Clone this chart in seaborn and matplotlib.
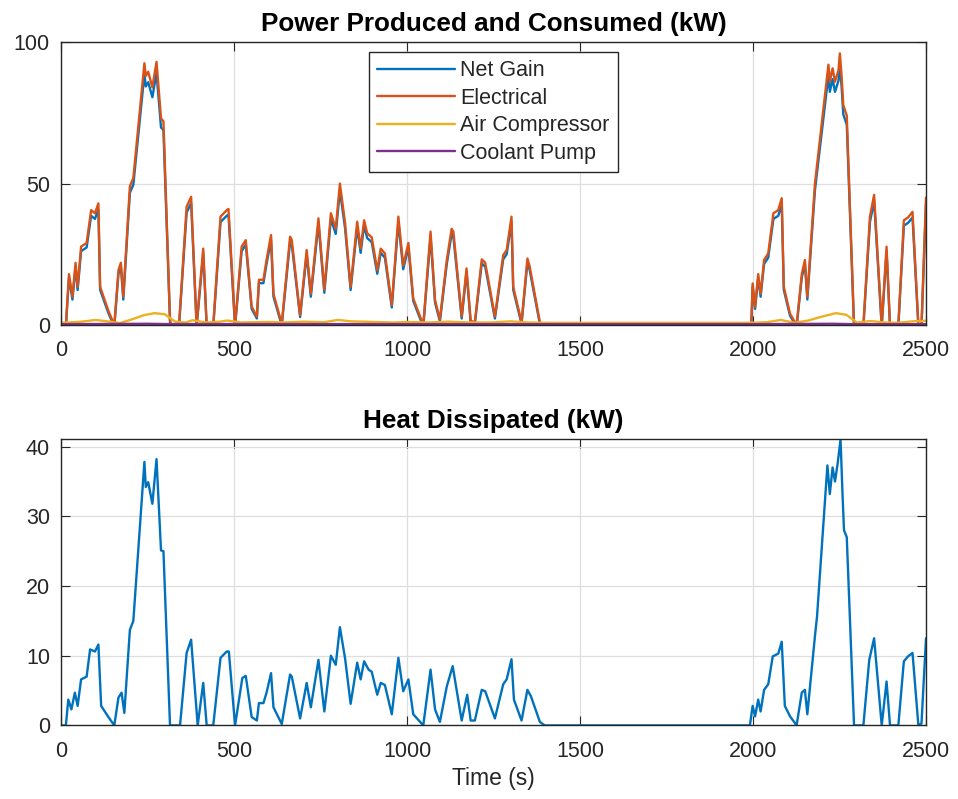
import numpy as np
import pandas as pd
import matplotlib
matplotlib.use("Agg")
import matplotlib.pyplot as plt
import seaborn as sns

sns.set_style("white")
plt.rcParams['font.family'] = ['Liberation Sans', 'DejaVu Sans']

# ---------------- data ----------------
t_power = [0, 14, 23, 33, 42, 48, 58, 74, 87, 98,
           108, 113, 137, 154, 166, 173, 180, 199, 209, 241,
           245, 252, 264, 276, 289, 296, 315, 318, 341, 363,
           376, 392, 411, 421, 440, 461, 479, 484, 503, 522,
           534, 551, 566, 572, 585, 594, 607, 614, 638, 662,
           667, 691, 710, 722, 744, 761, 780, 794, 806, 821,
           837, 856, 866, 876, 885, 898, 914, 924, 936, 956,
           975, 989, 1004, 1018, 1047, 1068, 1081, 1095, 1115, 1129,
           1134, 1158, 1172, 1184, 1196, 1216, 1226, 1254, 1278, 1288,
           1302, 1307, 1331, 1348, 1354, 1384, 1394, 1995, 1999, 2006,
           2015, 2022, 2032, 2044, 2059, 2073, 2083, 2089, 2107, 2126,
           2141, 2150, 2157, 2179, 2218, 2222, 2230, 2237, 2247, 2251,
           2256, 2261, 2271, 2292, 2319, 2338, 2350, 2372, 2386, 2396,
           2420, 2436, 2448, 2461, 2478, 2487, 2500]

electrical = [0, 0, 18, 10, 22, 13.5, 27.7, 29, 40.6, 39.5,
              43, 13.5, 5, 0, 19.4, 22, 10, 49, 52, 92.5,
              88, 89.5, 84, 93, 73, 72, 1.8, 0, 0, 41.8,
              45.3, 0, 27, 0, 0, 38.3, 40.6, 41, 0, 27.7,
              30, 6.5, 3, 16, 16, 23, 31.8, 11, 0.5, 31.2,
              30, 3.5, 26.5, 11, 37.7, 12.4, 39.5, 34, 50, 36,
              13.5, 36.5, 27, 37, 32.4, 31, 19.4, 27, 25.3, 7,
              38.3, 21, 29, 9.4, 0, 33, 8.8, 2, 23, 34,
              33, 3, 20, 1.5, 1, 23.2, 22, 3, 24.7, 26.5,
              38.3, 13.5, 1, 23.5, 21, 1, 0, 0, 14.7, 6.5,
              18, 11, 23, 25.3, 39.5, 40.6, 44.8, 13.5, 4, 0,
              18, 23, 10, 50, 92, 86, 90.7, 86, 90, 96,
              88, 77.7, 74, 0, 0, 38.3, 46, 0, 27.7, 0,
              0, 37, 38, 40, 0, 0, 45]

net_gain = [-0.6, -0.6, 16.8, 9.0, 20.6, 12.4, 26.1, 27.4, 38.6, 37.5,
            40.9, 12.4, 4.2, -0.6, 18.1, 20.6, 9.0, 46.7, 49.6, 88.7,
            84.3, 85.8, 80.5, 89.1, 69.8, 68.9, 1.1, -0.6, -0.6, 39.7,
            43.1, -0.6, 25.5, -0.6, -0.6, 36.4, 38.6, 39.0, -0.6, 26.1,
            28.4, 5.7, 2.3, 14.8, 14.8, 21.6, 30.1, 10.0, -0.1, 29.5,
            28.4, 2.8, 25.0, 10.0, 35.8, 11.4, 37.5, 32.2, 47.6, 34.1,
            12.4, 34.6, 25.5, 35.1, 30.7, 29.3, 18.1, 25.5, 23.8, 6.2,
            36.4, 19.7, 27.4, 8.5, -0.6, 31.2, 7.9, 1.3, 21.6, 32.2,
            31.2, 2.3, 18.7, 0.8, 0.4, 21.8, 20.6, 2.3, 23.2, 25.0,
            36.4, 12.4, 0.4, 22.1, 19.7, 0.4, -0.6, -0.6, 13.6, 5.7,
            16.8, 10.0, 21.6, 23.8, 37.5, 38.6, 42.6, 12.4, 3.3, -0.6,
            16.8, 21.6, 9.0, 47.6, 88.2, 82.4, 86.9, 82.4, 86.3, 92.0,
            84.3, 74.4, 70.8, -0.6, -0.6, 36.4, 43.8, -0.6, 26.1, -0.6,
            -0.6, 35.1, 36.1, 38.0, -0.6, -0.6, 42.8]

t_comp = [0, 20, 60, 100, 140, 170, 200, 240, 270, 300,
          330, 360, 380, 420, 460, 480, 520, 560, 600, 640,
          700, 760, 800, 840, 900, 960, 1000, 1060, 1120, 1180,
          1240, 1300, 1350, 1400, 1995, 2040, 2080, 2120, 2160, 2200,
          2240, 2270, 2300, 2340, 2380, 2420, 2460, 2500]
air_compressor = [0.8, 0.9, 1.2, 1.8, 1.2, 0.7, 1.8, 3.5, 4.2, 3.8,
                  1.2, 0.9, 1.7, 0.9, 1.2, 1.6, 0.9, 1.0, 1.1, 0.9,
                  1.2, 1.0, 1.8, 1.3, 1.1, 0.9, 1.1, 0.9, 1.2, 0.9,
                  0.9, 1.3, 0.9, 0.8, 0.8, 1.0, 1.8, 0.8, 1.6, 3.0,
                  4.2, 3.6, 0.9, 1.4, 0.9, 0.8, 1.3, 1.5]

t_pump = [0, 250, 300, 1400, 1995, 2230, 2290, 2500]
coolant_pump = [0.3, 0.45, 0.35, 0.3, 0.3, 0.45, 0.3, 0.3]

t_heat = [0, 14, 21, 30, 40, 48, 58, 74, 84, 98,
          108, 116, 137, 154, 166, 175, 183, 199, 209, 241,
          245, 252, 264, 276, 289, 296, 315, 344, 363, 376,
          395, 411, 421, 440, 461, 479, 485, 503, 524, 534,
          551, 566, 572, 585, 594, 607, 614, 638, 662, 667,
          691, 710, 722, 744, 761, 780, 794, 806, 821, 837,
          856, 866, 876, 889, 898, 914, 924, 936, 956, 975,
          989, 1004, 1018, 1047, 1068, 1081, 1095, 1115, 1132, 1158,
          1174, 1184, 1196, 1216, 1226, 1254, 1278, 1288, 1302, 1309,
          1331, 1348, 1358, 1384, 1398, 1991, 1999, 2006, 2015, 2022,
          2032, 2044, 2057, 2073, 2083, 2092, 2107, 2126, 2141, 2150,
          2157, 2179, 2185, 2215, 2222, 2230, 2237, 2245, 2253, 2259,
          2263, 2271, 2292, 2319, 2336, 2350, 2372, 2386, 2396, 2420,
          2436, 2448, 2461, 2478, 2487, 2500]
heat = [0, 0, 3.7, 2.3, 4.7, 2.8, 6.6, 7.0, 10.9, 10.6,
        11.6, 2.8, 1.2, 0, 4.0, 4.7, 1.8, 13.7, 15.0, 37.8,
        34.2, 34.9, 31.8, 38.2, 25.1, 25.0, 0, 0, 10.4, 12.3,
        0, 6.1, 0, 0, 9.7, 10.6, 10.6, 0, 6.8, 7.1,
        1.2, 0.7, 3.2, 3.2, 4.7, 7.5, 2.6, 0.2, 7.3, 7.0,
        1.0, 6.1, 2.6, 9.4, 2.0, 10.0, 8.7, 14.1, 9.6, 3.1,
        9.0, 6.6, 9.2, 8.0, 7.7, 4.4, 6.1, 5.8, 1.6, 9.7,
        4.9, 6.6, 1.6, 0, 8.0, 2.3, 0.5, 5.6, 8.5, 0.7,
        4.4, 0.7, 0.7, 5.1, 4.9, 1.0, 5.9, 6.6, 9.5, 3.7,
        0.7, 5.1, 4.2, 0.5, 0, 0, 2.8, 1.3, 3.7, 2.0,
        5.1, 5.9, 9.9, 10.3, 12.0, 2.8, 1.3, 0, 4.7, 5.1,
        1.6, 12.8, 15.6, 37.3, 33.2, 37.0, 35.0, 37.7, 41.05, 32.8,
        28.0, 27.0, 0, 0, 9.4, 12.5, 0, 6.3, 0, 0,
        9.2, 9.9, 10.4, 0, 0.3, 12.5]

x_ticks = [0, 500, 1000, 1500, 2000, 2500]
y_ticks_power = [0, 50, 100]
y_ticks_heat = [0, 10, 20, 30, 40]

# ---------------- styling ----------------
C_BLUE = '#0072BD'
C_ORANGE = '#D95319'
C_YELLOW = '#EDB120'
C_PURPLE = '#7E2F8E'
AX_COL = '#262626'
LW = 1.7


def style(ax):
    ax.set_xlim(0, 2500)
    ax.set_xticks(x_ticks)
    ax.grid(True, color='#dedede', linewidth=0.9)
    ax.set_axisbelow(True)
    for s in ax.spines.values():
        s.set_visible(True)
        s.set_color(AX_COL)
        s.set_linewidth(1.0)
    ax.tick_params(direction='in', length=6.2, width=0.8, color=AX_COL,
                   labelcolor=AX_COL, labelsize=15.5,
                   bottom=True, left=True, top=True, right=True)
    ax.tick_params(axis='x', pad=11)
    ax.tick_params(axis='y', pad=8)
    ax.set_xlabel('')
    ax.set_ylabel('')


fig = plt.figure(figsize=(9.58, 7.99), dpi=100)
ax1 = fig.add_axes([0.0637, 0.5932, 0.9029, 0.3542])
ax2 = fig.add_axes([0.0637, 0.0921, 0.9029, 0.3581])

sns.lineplot(x=t_power, y=net_gain, ax=ax1, color=C_BLUE, linewidth=LW, label='Net Gain')
sns.lineplot(x=t_power, y=electrical, ax=ax1, color=C_ORANGE, linewidth=LW, label='Electrical')
sns.lineplot(x=t_comp, y=air_compressor, ax=ax1, color=C_YELLOW, linewidth=LW, label='Air Compressor')
sns.lineplot(x=t_pump, y=coolant_pump, ax=ax1, color=C_PURPLE, linewidth=LW, label='Coolant Pump')
style(ax1)
ax1.set_ylim(0, 100)
ax1.set_yticks(y_ticks_power)
ax1.set_title('Power Produced and Consumed (kW)', fontsize=18.8, fontweight='bold',
              color='black', pad=8)
leg = ax1.legend(loc='upper center', fontsize=15.5, frameon=True, fancybox=False,
                 edgecolor=AX_COL, framealpha=1, handlelength=3.6, handletextpad=0.25,
                 labelspacing=0.3, borderpad=0.4, borderaxespad=0.45)
leg.get_frame().set_linewidth(1.0)
for txt in leg.get_texts():
    txt.set_color(AX_COL)

sns.lineplot(x=t_heat, y=heat, ax=ax2, color=C_BLUE, linewidth=LW)
style(ax2)
ax2.set_ylim(0, max(heat))
ax2.set_yticks(y_ticks_heat)
ax2.set_title('Heat Dissipated (kW)', fontsize=18.8, fontweight='bold', color='black', pad=8)
ax2.set_xlabel('Time (s)', fontsize=16.5, color=AX_COL, labelpad=4)

fig.savefig('out.png', dpi=100)
